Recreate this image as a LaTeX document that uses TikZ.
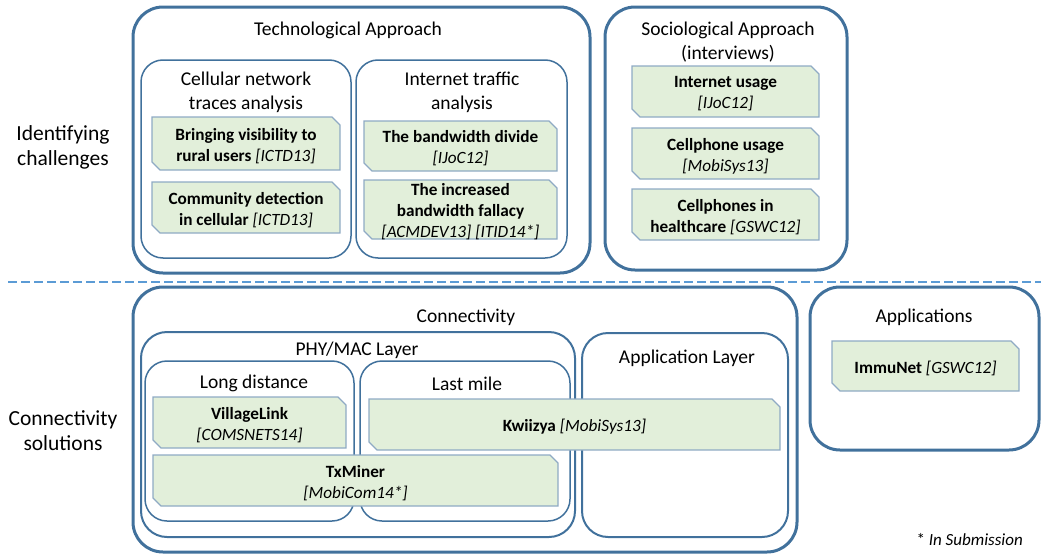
\documentclass[tikz,border=0pt]{standalone}
\usepackage{fontspec}
\setmainfont{Carlito}
\definecolor{boxblue}{HTML}{41719C}
\definecolor{dashblue}{HTML}{5B9BD5}
\definecolor{gfill}{HTML}{E2EFDA}
\definecolor{gdraw}{HTML}{8FAAC4}
\tikzset{
  outerbox/.style={draw=boxblue, line width=3pt, rounded corners=30pt},
  midbox/.style={draw=boxblue, line width=2pt, rounded corners=26pt},
  innerbox/.style={draw=boxblue, line width=1.5pt, rounded corners=22pt},
  gshape/.style={fill=gfill, draw=gdraw, line width=1.2pt, line join=miter},
  gtext/.style={align=center, font=\fontsize{17.2}{21}\selectfont, inner sep=0pt, yshift=-2.5pt},
  title/.style={align=center, font=\fontsize{19.5}{24}\selectfont, inner sep=0pt, yshift=-1.5pt},
  side/.style={align=center, font=\fontsize{21.5}{25}\selectfont, inner sep=0pt, yshift=-1.5pt},
  dashline/.style={draw=dashblue, line width=2.6pt, dash pattern=on 9pt off 4pt},
}
\newcommand\rbox[6]{%
  \pgfmathsetmacro\bw{#5-#3}\pgfmathsetmacro\bh{#6-#4}%
  \node[#2, minimum width=\bw pt, minimum height=\bh pt, anchor=north west, inner sep=0pt, outer sep=0pt] (#1) at (#3,#4) {};}
\newcommand\gbox[6]{%
  \path[gshape] (#2,#3) -- (#4-8,#3) -- (#4,#3+8) -- (#4,#5) -- (#2+8,#5) -- (#2,#5-8) -- cycle;
  \node[gtext] (#1) at ({(#2+#4)/2},{(#3+#5)/2}) {#6};}
\begin{document}
\begin{tikzpicture}[x=1pt,y=-1pt]
\useasboundingbox (0,0) rectangle (1041,554);
% top containers
\rbox{tech}{outerbox}{133}{7}{590}{273}
\rbox{cell}{innerbox}{141}{60}{351}{258}
\rbox{inet}{innerbox}{356}{60}{567}{258}
\rbox{soc}{outerbox}{605}{7}{847}{270}
\node[title] (techT) at (348,29) {Technological Approach};
\node[title] (cellT) at (246,91) {Cellular network\\traces analysis};
\node[title] (inetT) at (462,91) {Internet traffic\\analysis};
\node[title] (socT) at (728,41) {Sociological Approach\\(interviews)};
\gbox{g1}{152}{117}{340}{170}{\textbf{Bringing visibility to}\\\textbf{rural users} \textit{[ICTD13]}}
\gbox{g2}{152}{182}{340}{233}{\textbf{Community detection}\\\textbf{in cellular} \textit{[ICTD13]}}
\gbox{g3}{364}{121}{557}{171}{\textbf{The bandwidth divide}\\\textit{[IJoC12]}}
\gbox{g4}{364}{180}{557}{239}{\textbf{The increased}\\\textbf{bandwidth fallacy}\\\textit{[ACMDEV13] [ITID14*]}}
\gbox{g5}{632}{66}{819}{117}{\textbf{Internet usage}\\\textit{[IJoC12]}}
\gbox{g6}{632}{128}{819}{179}{\textbf{Cellphone usage}\\\textit{[MobiSys13]}}
\gbox{g7}{632}{189}{819}{240}{\textbf{Cellphones in}\\\textbf{healthcare} \textit{[GSWC12]}}
% side labels
\node[side] (idc) at (63,146) {Identifying\\challenges};
\node[side] (cons) at (63,429) {Connectivity\\solutions};
% dashed separator
\coordinate (dl1) at (8,282);
\coordinate (dl2) at (1041,282);
\draw[dashline] (dl1) -- (dl2);
% bottom containers
\rbox{conn}{outerbox}{133}{287}{797}{552}
\rbox{phy}{midbox}{141}{332}{575}{537}
\rbox{long}{innerbox}{145}{361}{354}{521}
\rbox{last}{innerbox}{360}{361}{570}{521}
\rbox{appl}{midbox}{582}{333}{788}{537}
\rbox{apps}{outerbox}{810}{287}{1039}{450}
\node[title] (connT) at (466,316) {Connectivity};
\node[title] (phyT) at (357,349) {PHY/MAC Layer};
\node[title] (longT) at (254,382) {Long distance};
\node[title] (lastT) at (467,382) {Last mile};
\node[title] (applT) at (687,357) {Application Layer};
\node[title] (appsT) at (924,316) {Applications};
\gbox{g8}{832}{341}{1019}{391}{\textbf{ImmuNet} \textit{[GSWC12]}}
\gbox{g9}{153}{397}{346}{448}{\textbf{VillageLink}\\\textit{[COMSNETS14]}}
\gbox{g10}{369}{399}{780}{450}{\textbf{Kwiizya} \textit{[MobiSys13]}}
\gbox{g11}{153}{455}{558}{506}{\textbf{TxMiner}\\\textit{[MobiCom14*]}}
\node[anchor=east, inner sep=0pt, font=\fontsize{17}{20}\selectfont] (note) at (1023,540) {* \textit{In Submission}};
\end{tikzpicture}
\end{document}
